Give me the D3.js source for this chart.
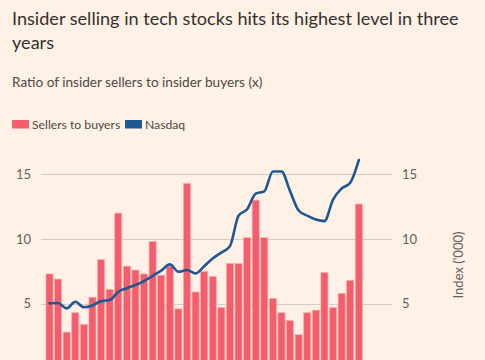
<!DOCTYPE html>
<html>
<head>
<meta charset="utf-8">
<script src="https://cdn.jsdelivr.net/npm/d3@7"></script>
<style>
  html, body { margin: 0; padding: 0; background: #fff1e5; }
  svg { display: block; font-family: Lato, "Open Sans", sans-serif; }
</style>
</head>
<body>
<svg id="chart" width="485" height="360"></svg>
<script>
// ---- data ----
const months = d3.range(37).map(i => "M" + (i + 1));
const sellersToBuyers = [7.3, 6.9, 2.8, 4.3, 3.4, 5.5, 8.4, 6.1, 12.0, 7.9, 7.6, 7.3, 9.8, 7.2, 7.9, 4.6, 14.3, 5.9, 7.5, 7.1, 4.7, 8.1, 8.1, 10.1, 13.0, 10.1, 5.4, 4.3, 3.7, 2.6, 4.3, 4.5, 7.4, 4.7, 5.8, 6.8, 12.7];
const nasdaq = [5.03, 5.05, 4.64, 5.15, 4.72, 4.86, 5.2, 5.28, 5.92, 6.2, 6.44, 6.75, 7.15, 7.55, 8.04, 7.47, 7.6, 7.34, 7.9, 8.5, 8.95, 9.45, 11.8, 12.3, 13.5, 13.68, 15.22, 15.22, 13.7, 12.2, 11.8, 11.5, 11.38, 13.05, 13.9, 14.35, 16.1];
const leftTicks = [5, 10, 15];
const rightTicks = [5, 10, 15];
const title = ["Insider selling in tech stocks hits its highest level in three", "years"];
const subtitle = "Ratio of insider sellers to insider buyers (x)";
const legendLabels = ["Sellers to buyers", "Nasdaq"];
const rightAxisLabel = "Index ('000)";

// ---- styles ----
const RED = "#f45d6a", BLUE = "#1d5794", BG = "#fff1e5";
const GRID = "#d6cbc1", TICK = "#66605c", TITLE = "#33302e";

const svg = d3.select("#chart");
svg.append("rect").attr("width", 485).attr("height", 360).attr("fill", BG);

// titles
svg.append("g").selectAll("text").data(title).join("text")
  .attr("x", 12).attr("y", (d, i) => 24.5 + i * 24)
  .attr("font-size", 18.1).attr("fill", TITLE).text(d => d);
svg.append("text").attr("x", 12).attr("y", 87)
  .attr("font-size", 13.6).attr("fill", "#4d4845").text(subtitle);

// legend
const legColors = [RED, BLUE];
const legX = [12, 125];
const lg = svg.append("g");
legendLabels.forEach((l, i) => {
  lg.append("rect").attr("x", legX[i]).attr("y", 120).attr("width", 17).attr("height", 8.5).attr("fill", legColors[i]);
  lg.append("text").attr("x", legX[i] + 20).attr("y", 129).attr("font-size", 12.2).attr("fill", "#4d4845").text(l);
});

// scales
const y = d3.scaleLinear().domain([0, 15]).range([368.4, 174.3]);
const x = d3.scaleBand().domain(months).range([45.2, 363.1]).paddingInner(0.18).paddingOuter(0.09);
const gridX0 = 41, gridX1 = 392;

// gridlines
svg.append("g").selectAll("line").data(leftTicks).join("line")
  .attr("x1", gridX0).attr("x2", gridX1)
  .attr("y1", d => Math.round(y(d)) + 0.5).attr("y2", d => Math.round(y(d)) + 0.5)
  .attr("stroke", GRID).attr("stroke-width", 1);

// left axis
const leftAxis = d3.axisLeft(y).tickValues(leftTicks).tickSize(0).tickPadding(0);
const gl = svg.append("g").attr("transform", `translate(31,0)`).call(leftAxis);
gl.select(".domain").remove();
gl.selectAll("text").attr("font-size", 13).attr("fill", TICK).attr("font-family", "Lato, sans-serif");

// right axis
const rightAxis = d3.axisRight(y).tickValues(rightTicks).tickSize(0).tickPadding(0);
const gr = svg.append("g").attr("transform", `translate(402,0)`).call(rightAxis);
gr.select(".domain").remove();
gr.selectAll("text").attr("font-size", 13).attr("fill", TICK).attr("font-family", "Lato, sans-serif");

svg.append("text")
  .attr("transform", "translate(463,265) rotate(-90)")
  .attr("text-anchor", "middle").attr("font-size", 13).attr("fill", TICK)
  .text(rightAxisLabel);

// bars
svg.append("g").selectAll("rect").data(sellersToBuyers).join("rect")
  .attr("x", (d, i) => x(months[i]))
  .attr("width", x.bandwidth())
  .attr("y", d => y(d))
  .attr("height", d => y(0) - y(d))
  .attr("fill", RED)
  .attr("stroke", "#fca9ae").attr("stroke-width", 0.7);

// line
const line = d3.line()
  .x((d, i) => x(months[i]) + x.bandwidth() / 2)
  .y(d => y(d))
  .curve(d3.curveMonotoneX);
svg.append("path").datum(nasdaq)
  .attr("d", line).attr("fill", "none")
  .attr("stroke", BLUE).attr("stroke-width", 2.6)
  .attr("stroke-linejoin", "round").attr("stroke-linecap", "round");
</script>
</body>
</html>
